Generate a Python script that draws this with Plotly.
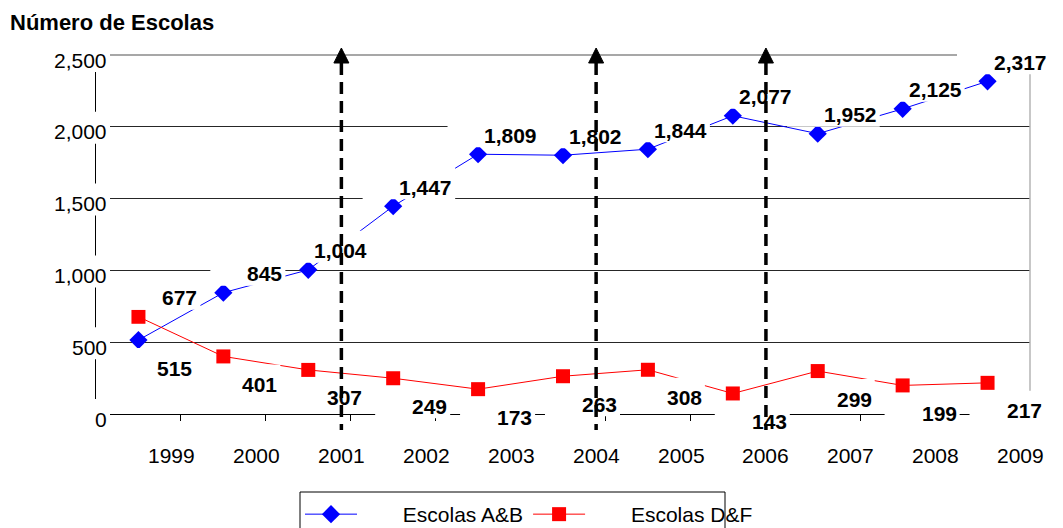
import plotly.graph_objects as go

# ---- data -------------------------------------------------------------
years = ["1999", "2000", "2001", "2002", "2003", "2004",
         "2005", "2006", "2007", "2008", "2009"]
escolas_ab = [515, 845, 1004, 1447, 1809, 1802, 1844, 2077, 1952, 2125, 2317]
escolas_df = [677, 401, 307, 249, 173, 263, 308, 143, 299, 199, 217]
y_ticks = [0, 500, 1000, 1500, 2000, 2500]
marked_years = ["2001", "2004", "2006"]

# ---- geometry / style ---------------------------------------------------
FONT = "Liberation Sans, Arial, sans-serif"
W, H = 1063, 528
MARGIN = dict(l=96, r=33, t=55, b=114)
PLOT_W = W - MARGIN["l"] - MARGIN["r"]
PLOT_H = H - MARGIN["t"] - MARGIN["b"]
X_RANGE = [-0.5, len(years) - 0.5]
Y_RANGE = [0, 2500]
YEAR_OFFSET = 0.39          # year captions sit right of each category's points

LABEL_PX = 21
DIGIT_W = 0.556 * LABEL_PX
COMMA_W = 0.278 * LABEL_PX
BOX_LEFT_PAD = 39           # white label boxes are wider than their text
ABOVE = (61, 19)            # (right edge shift, vertical shift) in px
BELOW = (56, -28)
LEGEND_PAD = "\u00a0" * 7   # gap between legend symbol and its text


def xp(v):
    return (v - X_RANGE[0]) / (X_RANGE[1] - X_RANGE[0])


def yp(v):
    return (v - Y_RANGE[0]) / (Y_RANGE[1] - Y_RANGE[0])


def px_x(p):
    return (p - MARGIN["l"]) / PLOT_W


def px_y(p):
    return (H - MARGIN["b"] - p) / PLOT_H


def text_width(s):
    return sum(COMMA_W if ch == "," else DIGIT_W for ch in s)


pos = list(range(len(years)))

fig = go.Figure()
fig.add_trace(go.Scatter(
    x=pos, y=escolas_ab, name=LEGEND_PAD + "Escolas A&B",
    mode="lines+markers",
    line=dict(color="#0000ff", width=1),
    marker=dict(symbol="diamond", size=14, color="#0000ff"),
))
fig.add_trace(go.Scatter(
    x=pos, y=escolas_df, name=LEGEND_PAD + "Escolas D&F",
    mode="lines+markers",
    line=dict(color="#ff0000", width=1),
    marker=dict(symbol="square", size=14, color="#ff0000"),
))

shapes = []
annotations = []

# legend frame
shapes.append(dict(type="rect", xref="paper", yref="paper",
                   x0=px_x(300), x1=px_x(725), y0=px_y(492), y1=px_y(545),
                   line=dict(color="black", width=1), fillcolor="rgba(0,0,0,0)",
                   layer="above"))

# top line of the frame and right border
shapes.append(dict(type="line", xref="paper", yref="paper", x0=0, x1=1, y0=1, y1=1,
                   line=dict(color="#8a8a8a", width=1.5), layer="above"))
shapes.append(dict(type="line", xref="paper", yref="paper", x0=1, x1=1, y0=1,
                   y1=-8 / PLOT_H, line=dict(color="#b4b4b4", width=1.5), layer="above"))


def add_label(i, v, other):
    dx, dy = ABOVE if v >= other else BELOW
    txt = f"{v:,}"
    tw = text_width(txt)
    shapes.append(dict(
        type="rect", xref="paper", yref="paper",
        xsizemode="pixel", ysizemode="pixel",
        xanchor=xp(i), yanchor=yp(v),
        x0=dx - tw - BOX_LEFT_PAD, x1=dx + 1, y0=dy - 12, y1=dy + 20,
        fillcolor="white", line=dict(width=0), layer="above",
    ))
    annotations.append(dict(
        x=i, y=v, xref="x", yref="y", text=f"<b>{txt}</b>", showarrow=False,
        xanchor="right", yanchor="middle", xshift=dx, yshift=dy,
        font=dict(family=FONT, size=LABEL_PX, color="black"),
    ))


for i in pos:
    add_label(i, escolas_ab[i], escolas_df[i])
    add_label(i, escolas_df[i], escolas_ab[i])

# value axis captions on white boxes
for v in y_ticks:
    shapes.append(dict(
        type="rect", xref="paper", yref="paper",
        xsizemode="pixel", ysizemode="pixel", xanchor=0, yanchor=yp(v),
        x0=-60, x1=14, y0=-17, y1=15,
        fillcolor="white", line=dict(width=0), layer="above",
    ))
    annotations.append(dict(
        x=0, y=v, xref="paper", yref="y", text=f"{v:,}", showarrow=False,
        xanchor="right", yanchor="middle", xshift=13, yshift=-5,
        font=dict(family=FONT, size=21, color="black"),
    ))

# year captions
for i, yr in enumerate(years):
    annotations.append(dict(
        x=i + YEAR_OFFSET, y=0, xref="x", yref="paper", text=yr, showarrow=False,
        xanchor="center", yanchor="middle", yshift=-41,
        font=dict(family=FONT, size=21, color="black"),
    ))

# dashed arrows marking selected years
for yr in marked_years:
    ax = xp(years.index(yr) + YEAR_OFFSET)
    shapes.append(dict(
        type="line", xref="paper", yref="paper", x0=ax, x1=ax,
        y0=1 - 8 / PLOT_H, y1=-16 / PLOT_H,
        line=dict(color="black", width=3.5, dash="12px,7px"), layer="above",
    ))
    shapes.append(dict(
        type="path", xref="paper", yref="paper",
        xsizemode="pixel", ysizemode="pixel", xanchor=ax, yanchor=1,
        path="M -7.5,-8 L 0,7 L 7.5,-8 Z",
        fillcolor="black", line=dict(color="black", width=1), layer="above",
    ))

fig.update_layout(
    width=W, height=H,
    margin=dict(**MARGIN, pad=0, autoexpand=False),
    paper_bgcolor="white", plot_bgcolor="white",
    font=dict(family=FONT, color="black"),
    title=dict(text="<b>Número de Escolas</b>", x=10 / W, xref="container",
               xanchor="left", y=1 - 22 / H, yref="container", yanchor="middle",
               font=dict(family=FONT, size=22, color="black")),
    showlegend=True,
    legend=dict(orientation="h", x=px_x(300), y=px_y(494),
                xanchor="left", yanchor="top",
                borderwidth=0, bgcolor="rgba(0,0,0,0)",
                itemwidth=52,
                font=dict(family=FONT, size=21, color="black")),
    xaxis=dict(range=X_RANGE, showgrid=False, zeroline=False,
               showline=True, linecolor="black", linewidth=1,
               tickvals=[i + 0.5 for i in pos[:-1]], ticks="outside",
               ticklen=6, tickcolor="black", showticklabels=False),
    yaxis=dict(range=Y_RANGE, tickvals=y_ticks[1:-1], showgrid=True,
               gridcolor="#262626", gridwidth=1, zeroline=False,
               showline=True, linecolor="black", linewidth=1,
               showticklabels=False, ticks=""),
    shapes=shapes,
    annotations=annotations,
)

fig.write_html("out.html")
